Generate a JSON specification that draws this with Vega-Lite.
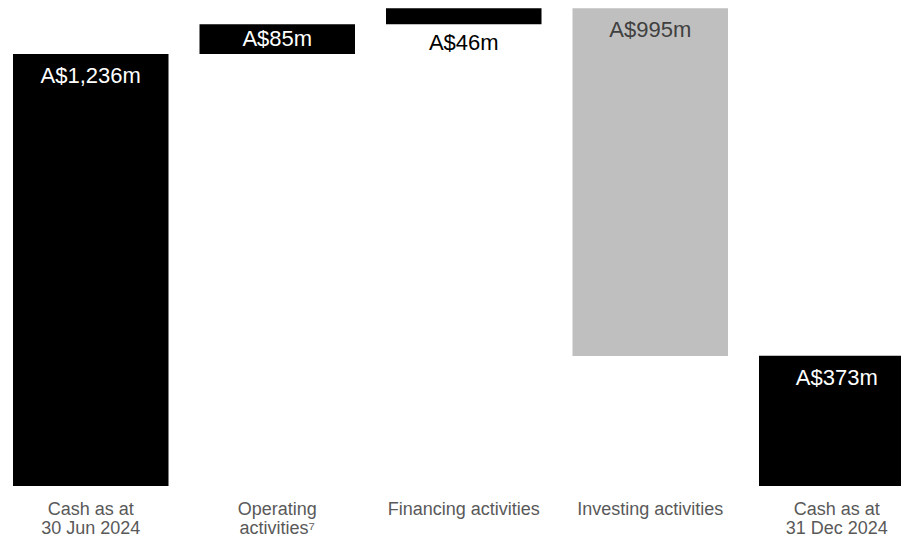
{
  "$schema": "https://vega.github.io/schema/vega-lite/v6.json",
  "width": 901,
  "height": 486,
  "autosize": {"type": "none"},
  "padding": {"left": 0, "top": 0, "right": 0, "bottom": 52},
  "background": "white",
  "config": {"view": {"stroke": null}},
  "data": {
    "values": [
      {"cat": "Cash as at|30 Jun 2024", "low": 0, "high": 1236, "label": "A$1,236m", "kind": "total"},
      {"cat": "Operating|activities⁷", "low": 1236, "high": 1321, "label": "A$85m", "kind": "increase"},
      {"cat": "Financing activities", "low": 1321, "high": 1367, "label": "A$46m", "kind": "increase"},
      {"cat": "Investing activities", "low": 372, "high": 1367, "label": "A$995m", "kind": "decrease"},
      {"cat": "Cash as at|31 Dec 2024", "low": 0, "high": 373, "label": "A$373m", "kind": "total"}
    ]
  },
  "encoding": {
    "x": {
      "field": "cat",
      "type": "nominal",
      "sort": null,
      "scale": {"range": [0, 927.5], "paddingInner": 0.1662, "paddingOuter": 0.0697},
      "axis": {
        "title": null,
        "domain": false,
        "ticks": false,
        "grid": false,
        "labelAngle": 0,
        "labelPadding": 14,
        "labelFont": "Liberation Sans",
        "labelFontSize": 18,
        "labelColor": "#595959",
        "labelLineHeight": 19,
        "labelBaseline": "top",
        "labelLimit": 400,
        "labelOverlap": false,
        "labelExpr": "split(datum.label, '|')"
      }
    }
  },
  "layer": [
    {
      "mark": {"type": "bar"},
      "encoding": {
        "y": {"field": "low", "type": "quantitative", "scale": {"domain": [0, 1390.5], "nice": false, "zero": true}, "axis": null},
        "y2": {"field": "high"},
        "color": {
          "field": "kind",
          "type": "nominal",
          "scale": {"domain": ["total", "increase", "decrease"], "range": ["#000000", "#000000", "#bfbfbf"]},
          "legend": null
        }
      }
    },
    {
      "transform": [{"filter": "datum.kind !== 'increase'"}],
      "mark": {"type": "text", "font": "Liberation Sans", "fontSize": 22, "align": "center", "baseline": "alphabetic", "dy": 29},
      "encoding": {
        "y": {"field": "high", "type": "quantitative"},
        "text": {"field": "label"},
        "color": {"condition": {"test": "datum.kind === 'decrease'", "value": "#404040"}, "value": "#ffffff"}
      }
    },
    {
      "transform": [{"filter": "datum.label === 'A$85m'"}],
      "mark": {"type": "text", "font": "Liberation Sans", "fontSize": 22, "align": "center", "baseline": "alphabetic", "dy": 22, "color": "#ffffff"},
      "encoding": {
        "y": {"field": "high", "type": "quantitative"},
        "text": {"field": "label"}
      }
    },
    {
      "transform": [{"filter": "datum.label === 'A$46m'"}],
      "mark": {"type": "text", "font": "Liberation Sans", "fontSize": 22, "align": "center", "baseline": "alphabetic", "dy": 26, "color": "#000000"},
      "encoding": {
        "y": {"field": "low", "type": "quantitative"},
        "text": {"field": "label"}
      }
    }
  ]
}
